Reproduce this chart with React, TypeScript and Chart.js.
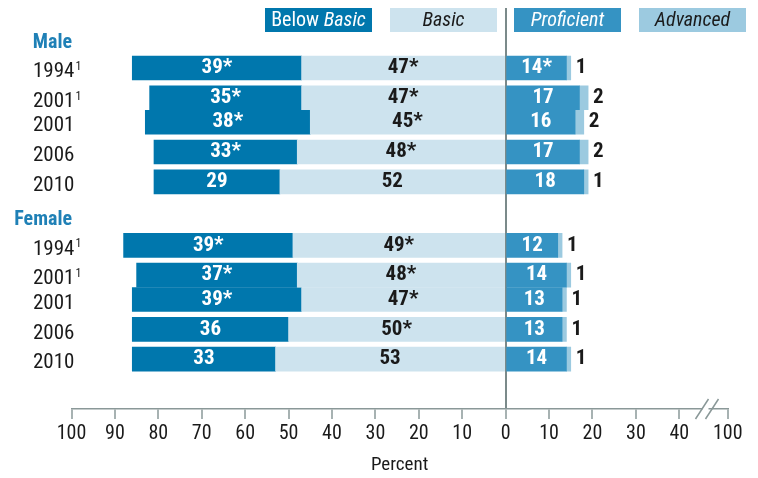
import React, { useEffect, useRef } from "react";
import { Chart, registerables } from "chart.js";

Chart.register(...registerables);

// ---------- data ----------
const groups = ["Male", "Female"];
const years = ["1994", "2001", "2001", "2006", "2010"];
const footnoted = [true, true, false, false, false];

const maleBelowBasic = [39, 35, 38, 33, 29];
const maleBasic = [47, 47, 45, 48, 52];
const maleProficient = [14, 17, 16, 17, 18];
const maleAdvanced = [1, 2, 2, 2, 1];

const femaleBelowBasic = [39, 37, 39, 36, 33];
const femaleBasic = [49, 48, 47, 50, 53];
const femaleProficient = [12, 14, 13, 13, 14];
const femaleAdvanced = [1, 1, 1, 1, 1];

const maleBelowBasicSig = [true, true, true, true, false];
const maleBasicSig = [true, true, true, true, false];
const maleProficientSig = [true, false, false, false, false];
const femaleBelowBasicSig = [true, true, true, false, false];
const femaleBasicSig = [true, true, true, true, false];
const femaleProficientSig = [false, false, false, false, false];

const legendLabels = ["Below Basic", "Basic", "Proficient", "Advanced"];
// the right end of the axis is broken: "100" sits just past 40
const BREAK_END = 51.15;
const xTickValues = [-100, -90, -80, -70, -60, -50, -40, -30, -20, -10, 0, 10, 20, 30, 40, BREAK_END];
const xTickLabels = ["100", "90", "80", "70", "60", "50", "40", "30", "20", "10", "0", "10", "20", "30", "40", "100"];

// ---------- styles / layout ----------
const FONT = "'Roboto Condensed', 'DejaVu Sans Condensed', sans-serif";
const C_BELOW = "#0077ad";
const C_BASIC = "#cde3ee";
const C_PROF = "#3593c3";
const C_ADV = "#9ccae0";
const C_AXIS = "#8a9898";
const C_HEAD = "#1f80b6";
const C_TEXT = "#1a1a1a";

const PAIR_STEP = 0.82;
const GROUP_GAP = 2.13;
const HEADER_OFFSET = 0.85;

// row positions on the (linear) category axis
const rowPos: number[] = [];
const headerPos: number[] = [];
{
  let p = 0;
  groups.forEach((_, gi) => {
    if (gi > 0) p += GROUP_GAP;
    headerPos.push(p - HEADER_OFFSET);
    years.forEach((_, i) => {
      if (i > 0) p += footnoted[i - 1] && !footnoted[i] ? PAIR_STEP : 1;
      rowPos.push(p);
    });
  });
}

const belowAll = [...maleBelowBasic, ...femaleBelowBasic];
const basicAll = [...maleBasic, ...femaleBasic];
const profAll = [...maleProficient, ...femaleProficient];
const advAll = [...maleAdvanced, ...femaleAdvanced];
const belowSigAll = [...maleBelowBasicSig, ...femaleBelowBasicSig];
const basicSigAll = [...maleBasicSig, ...femaleBasicSig];
const profSigAll = [...maleProficientSig, ...femaleProficientSig];

const overlayPlugin = {
  id: "overlay",
  afterDatasetsDraw(chart: any) {
    const ctx = chart.ctx;
    const xs = chart.scales.x;
    const ys = chart.scales.y;
    ctx.save();
    // segment labels
    const sigs = [basicSigAll, belowSigAll, profSigAll, null];
    const colors = [C_TEXT, "#ffffff", "#ffffff", C_TEXT];
    ctx.textBaseline = "middle";
    ctx.font = `bold 21px ${FONT}`;
    chart.data.datasets.forEach((ds: any, di: number) => {
      const meta = chart.getDatasetMeta(di);
      meta.data.forEach((el: any, i: number) => {
        const v = Math.abs(ds.data[i].x);
        const sig = sigs[di] ? sigs[di]![i] : false;
        const txt = `${v}${sig ? "*" : ""}`;
        ctx.fillStyle = colors[di];
        if (di === 3) {
          ctx.textAlign = "left";
          ctx.fillText(txt, Math.max(el.x, el.base) + 5, el.y);
        } else {
          ctx.textAlign = "center";
          ctx.fillText(txt, (el.x + el.base) / 2, el.y);
        }
      });
    });
    // headers
    ctx.font = `bold 20px ${FONT}`;
    ctx.fillStyle = C_HEAD;
    ctx.textAlign = "right";
    groups.forEach((g, gi) => {
      ctx.fillText(g, xs.left + 0.5, ys.getPixelForValue(headerPos[gi]));
    });
    // year labels
    ctx.fillStyle = C_TEXT;
    ctx.textAlign = "left";
    rowPos.forEach((p, ri) => {
      const i = ri % years.length;
      const y = ys.getPixelForValue(p) + 4;
      ctx.font = `21px ${FONT}`;
      ctx.fillText(years[i], 33, y);
      if (footnoted[i]) {
        const w = ctx.measureText(years[i]).width;
        ctx.font = `12px ${FONT}`;
        ctx.fillText("1", 33 + w + 1, y - 5);
      }
    });
    // legend
    const boxX = [265, 390, 514, 639];
    const fills = [C_BELOW, C_BASIC, C_PROF, C_ADV];
    const tcol = ["#ffffff", C_TEXT, "#ffffff", C_TEXT];
    legendLabels.forEach((lab, li) => {
      ctx.fillStyle = fills[li];
      ctx.fillRect(boxX[li], 8, 107, 24);
      ctx.fillStyle = tcol[li];
      const cx = boxX[li] + 53.5;
      const cy = 20.5;
      if (li === 0) {
        const [a, b] = lab.split(" ");
        ctx.font = `20px ${FONT}`;
        const wa = ctx.measureText(a + " ").width;
        ctx.font = `italic 20px ${FONT}`;
        const wb = ctx.measureText(b).width;
        const sx = cx - (wa + wb) / 2;
        ctx.textAlign = "left";
        ctx.font = `20px ${FONT}`;
        ctx.fillText(a + " ", sx, cy);
        ctx.font = `italic 20px ${FONT}`;
        ctx.fillText(b, sx + wa, cy);
      } else {
        ctx.textAlign = "center";
        ctx.font = `italic 20px ${FONT}`;
        ctx.fillText(lab, cx, cy);
      }
    });
    // axis break
    const bx = xs.getPixelForValue((40 + BREAK_END) / 2);
    const by = xs.top;
    ctx.fillStyle = "#ffffff";
    ctx.fillRect(bx - 1, by - 2, 6, 4);
    ctx.strokeStyle = C_AXIS;
    ctx.lineWidth = 1.5;
    ctx.beginPath();
    ctx.moveTo(bx - 8, by + 10);
    ctx.lineTo(bx + 5, by - 10);
    ctx.moveTo(bx + 2, by + 10);
    ctx.lineTo(bx + 15, by - 10);
    ctx.stroke();
    ctx.restore();
  },
};

export default function App() {
  const ref = useRef<HTMLCanvasElement | null>(null);
  useEffect(() => {
    if (!ref.current) return;
    const mk = (vals: number[], sign: number) =>
      vals.map((v, i) => ({ x: sign * v, y: rowPos[i] }));
    const chart = new Chart(ref.current, {
      type: "bar",
      data: {
        datasets: [
          { label: "Basic", data: mk(basicAll, -1), backgroundColor: C_BASIC },
          { label: "Below Basic", data: mk(belowAll, -1), backgroundColor: C_BELOW },
          { label: "Proficient", data: mk(profAll, 1), backgroundColor: C_PROF },
          { label: "Advanced", data: mk(advAll, 1), backgroundColor: C_ADV },
        ] as any,
      },
      options: {
        indexAxis: "y",
        animation: false,
        responsive: false,
        devicePixelRatio: 1,
        layout: { padding: { left: 71.5, right: 30.3, top: 8, bottom: 1.5 } },
        datasets: { bar: { barThickness: 24, borderWidth: 0 } } as any,
        plugins: { legend: { display: false }, tooltip: { enabled: false } },
        scales: {
          x: {
            type: "linear",
            min: -100,
            max: BREAK_END,
            stacked: true,
            z: 1,
            afterBuildTicks: (axis: any) => {
              axis.ticks = xTickValues.map((v) => ({ value: v }));
            },
            ticks: {
              autoSkip: false,
              maxRotation: 0,
              padding: 3,
              color: C_TEXT,
              font: { family: FONT, size: 20 },
              callback: (_v: any, i: number) => xTickLabels[i],
            },
            grid: {
              drawOnChartArea: true,
              color: (c: any) => (c.tick && c.tick.value === 0 ? "#7b8a8a" : "rgba(0,0,0,0)"),
              lineWidth: 2,
              tickColor: C_AXIS,
              tickLength: 10,
              tickWidth: 1.5,
            },
            border: { display: true, color: C_AXIS, width: 1.5 },
            title: {
              display: true,
              text: "Percent",
              color: C_TEXT,
              font: { family: FONT, size: 19 },
              padding: { top: 4.7, bottom: 0 },
            },
          } as any,
          y: {
            type: "linear",
            display: false,
            reverse: true,
            stacked: true,
            offset: false,
            grace: 0,
            min: -2.013,
            max: 11.443,
          },
        },
      },
      plugins: [overlayPlugin],
    });
    return () => chart.destroy();
  }, []);
  return (
    <div style={{ position: "absolute", left: 0, top: 0, width: 758, height: 478 }}>
      <canvas ref={ref} width={758} height={478} style={{ width: 758, height: 478 }} />
    </div>
  );
}
